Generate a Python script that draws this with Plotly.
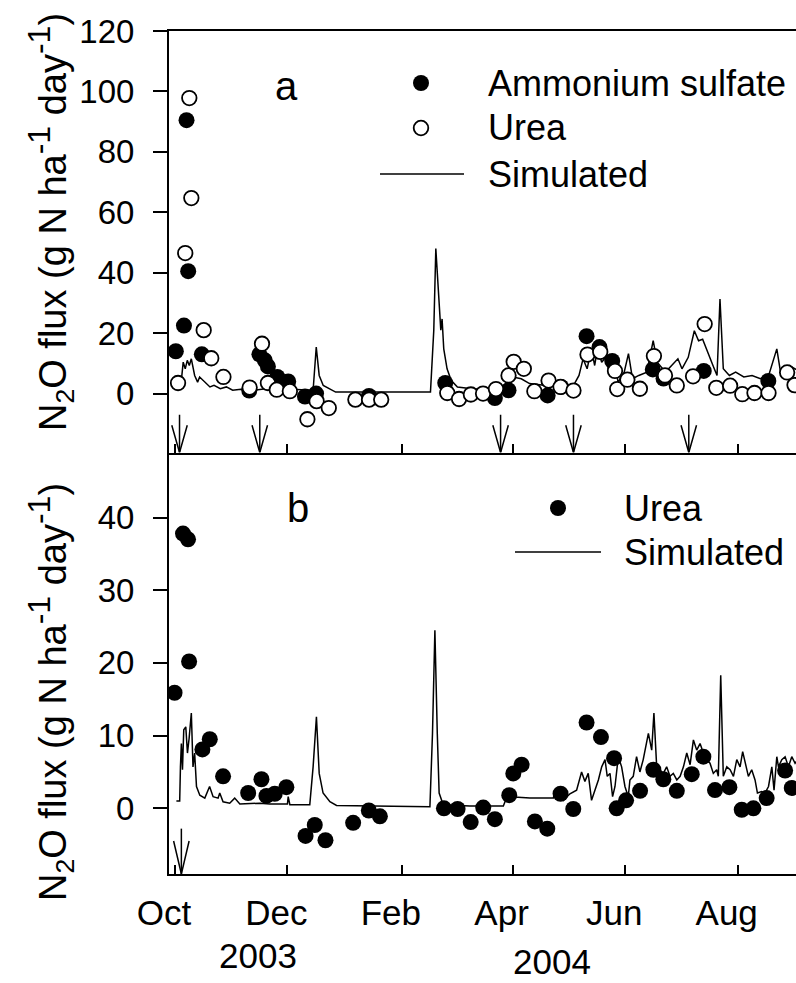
import plotly.graph_objects as go
import pandas as pd

START = pd.Timestamp("2003-10-01")

# ---------------- data (days since 1 Oct 2003, flux in g N ha-1 day-1) ----------------
# Panel a
as_days = [0.5, 4.9, 6.3, 7.2, 14.6, 40.3, 45.8, 48.7, 50.4, 55.5, 61.4, 70.5, 76.5, 105.2,
           146.5, 173.4, 180.8, 202.0, 209.3, 223.1, 230.1, 237.0, 259.0, 264.8, 286.6, 321.6]
as_flux = [14.0, 22.5, 90.5, 40.5, 13.0, 1.0, 13.0, 11.0, 9.0, 5.5, 4.0, -1.0, 0.0, -0.8,
           3.5, -1.5, 1.1, -0.6, 2.2, 19.0, 15.4, 10.8, 8.0, 5.0, 7.5, 4.2]

urea_a_days = [1.7, 5.6, 7.8, 8.9, 15.6, 19.7, 26.3, 40.5, 47.2, 50.4, 55.2, 62.3, 71.8, 76.8,
               83.4, 97.8, 105.2, 111.8, 147.6, 154.0, 160.4, 167.0, 174.0, 180.8, 183.6, 189.1,
               194.8, 202.5, 209.0, 216.0, 223.6, 230.5, 238.5, 239.7, 245.2, 252.0, 259.6, 265.6,
               272.0, 280.8, 287.1, 293.4, 300.9, 307.5, 314.1, 321.7, 331.8, 335.8]
urea_a_flux = [3.5, 46.5, 97.8, 64.7, 21.0, 11.7, 5.5, 2.0, 16.5, 3.5, 1.3, 0.8, -8.5, -2.5,
               -4.8, -2.0, -2.0, -2.0, 0.2, -1.8, -0.3, 0.0, 1.5, 6.0, 10.5, 8.2,
               0.8, 4.3, 2.2, 1.0, 12.9, 13.8, 7.5, 1.5, 4.6, 1.6, 12.4, 6.0,
               2.7, 5.7, 23.0, 1.9, 2.6, -0.2, 0.2, 0.2, 7.0, 2.8]

sim_a_days = [3.4, 4.5, 5.6, 6.7, 7.8, 8.9, 10.7, 12.3, 13.4, 16.8,
              19.0, 21.2, 24.6, 27.9, 31.3, 35.8, 42.5, 49.2, 55.9, 62.6,
              74.9, 76.6, 78.2, 80.4, 87.1, 138.5, 140.3, 141.4, 143.0, 144.1,
              144.8, 145.7, 147.5, 149.7, 153.1, 160.9, 169.8, 176.5, 179.9, 183.2,
              187.7, 192.2, 201.1, 210.0, 215.6, 219.0, 221.2, 223.4, 225.7, 227.5,
              229.0, 231.3, 233.5, 235.7, 238.0, 240.2, 243.5, 245.8, 248.0, 251.4,
              255.8, 259.2, 261.4, 265.9, 269.2, 272.6, 274.8, 278.2, 281.5, 283.8,
              286.0, 288.2, 291.6, 293.8, 295.4, 297.2, 300.5, 303.9, 308.3, 312.8,
              317.3, 321.8, 326.2, 328.5, 332.9, 337.4]
sim_a_flux = [3.8, 10.4, 8.2, 11.0, 9.3, 11.5, 6.0, 3.8, 5.5, 3.3,
              2.2, 2.7, 1.6, 2.2, 1.1, 1.4, 1.1, 1.6, 1.1, 1.4,
              1.1, 15.4, 6.0, 2.7, 0.5, 0.5, 21.0, 48.0, 32.0, 21.0,
              24.7, 14.8, 8.2, 4.4, 2.2, 1.6, 1.4, 1.1, 3.8, 5.5,
              4.9, 3.3, 2.7, 3.0, 2.2, 6.0, 11.5, 8.2, 14.8, 9.3,
              14.8, 10.4, 12.0, 6.0, 10.4, 3.8, 7.1, 13.2, 4.9, 6.0,
              7.1, 17.5, 10.4, 7.1, 9.3, 11.5, 8.2, 12.0, 20.8, 17.5,
              18.0, 14.8, 9.3, 6.0, 31.3, 8.2, 6.0, 7.1, 5.5, 6.0,
              4.9, 6.0, 14.8, 6.0, 9.3, 7.7]

fert_a_days = [2.5, 46.0, 176.5, 216.0, 278.5]

# Panel b
urea_b_days = [-0.2, 4.4, 7.1, 7.7, 14.9, 18.9, 26.1, 39.7, 46.9, 49.6,
               54.1, 60.4, 70.8, 75.8, 81.6, 96.6, 105.1, 111.1, 145.8, 153.2,
               160.3, 167.1, 173.4, 181.2, 183.4, 187.9, 195.1, 201.8, 209.0, 215.9,
               223.1, 230.9, 238.0, 239.4, 244.5, 252.1, 259.3, 264.7, 272.0, 280.1,
               286.4, 292.7, 300.5, 307.2, 313.5, 320.7, 330.7, 334.3]
urea_b_flux = [15.9, 37.8, 37.0, 20.2, 8.1, 9.5, 4.4, 2.1, 4.0, 1.7,
               2.0, 2.9, -3.8, -2.3, -4.4, -2.0, -0.3, -1.1, 0.0, -0.1,
               -1.9, 0.1, -1.5, 1.8, 4.8, 6.0, -1.8, -2.8, 2.0, -0.1,
               11.8, 9.8, 6.9, 0.0, 1.1, 2.4, 5.3, 4.0, 2.4, 4.7,
               7.1, 2.5, 2.9, -0.2, 0.0, 1.4, 5.2, 2.8]

sim_b_days = [0.8, 2.6, 3.0, 3.5, 4.1, 4.8, 5.9, 6.8, 7.7, 8.9,
              9.8, 10.7, 11.7, 13.5, 16.2, 18.8, 20.7, 23.4, 24.3, 26.1,
              29.7, 32.4, 35.2, 46.0, 51.4, 61.0, 61.4, 62.3, 73.1, 74.9,
              76.7, 78.2, 80.3, 84.0, 87.6, 138.2, 139.6, 140.9, 142.2, 143.2,
              145.4, 159.9, 178.0, 179.8, 181.6, 192.4, 205.1, 206.0, 210.5, 214.1,
              217.7, 220.4, 222.2, 224.0, 225.8, 227.6, 229.5, 231.3, 233.1, 234.3,
              235.8, 237.2, 238.5, 240.3, 242.1, 243.9, 245.7, 246.6, 248.4, 250.2,
              252.0, 253.8, 255.3, 256.6, 258.4, 259.6, 261.1, 262.9, 264.7, 266.5,
              268.3, 270.1, 272.0, 273.8, 275.6, 277.4, 279.2, 281.0, 282.8, 284.6,
              286.4, 288.2, 290.0, 291.8, 293.6, 294.5, 295.8, 297.2, 299.1, 300.9,
              302.7, 304.5, 306.3, 307.7, 309.0, 310.8, 312.6, 314.4, 315.7, 318.0,
              319.8, 321.7, 323.5, 324.7, 326.2, 327.1, 328.9, 330.7, 332.5, 334.3,
              336.1, 338.8]
sim_b_flux = [1.0, 1.0, 5.7, 8.9, 5.3, 10.8, 11.2, 7.6, 9.6, 13.1,
              5.7, 7.6, 3.0, 1.8, 1.4, 3.0, 1.6, 1.4, 2.1, 0.9,
              0.7, 1.4, 0.6, 0.7, 0.6, 0.6, 1.6, 0.5, 0.5, 5.7,
              12.6, 4.8, 2.1, 0.9, 0.4, 0.2, 10.3, 24.5, 10.3, 2.1,
              0.5, 0.3, 0.3, 1.5, 1.6, 1.4, 1.4, 2.5, 1.1, 2.0,
              2.5, 5.0, 3.7, 4.8, 1.1, 2.5, 3.9, 5.7, 6.7, 4.4,
              4.8, 1.6, 3.0, 7.1, 5.7, 3.0, 1.6, 3.9, 4.4, 7.1,
              5.0, 6.7, 8.5, 10.3, 8.0, 13.1, 5.7, 5.3, 4.8, 5.7,
              4.4, 4.8, 3.9, 4.4, 5.7, 7.6, 6.0, 9.4, 8.0, 8.9,
              7.6, 6.7, 6.2, 4.8, 5.3, 4.4, 18.3, 4.4, 5.7, 5.3,
              4.4, 6.7, 5.7, 7.8, 6.2, 4.4, 5.3, 3.9, 2.1, 2.3,
              2.1, 3.0, 5.7, 2.5, 7.1, 5.7, 6.7, 7.1, 5.7, 7.1,
              6.2, 7.1]

fert_b_days = [3.5]

month_ticks = ["2003-10-01", "2003-12-01", "2004-02-01", "2004-04-01", "2004-06-01", "2004-08-01"]
month_labels = ["Oct", "Dec", "Feb", "Apr", "Jun", "Aug"]
year_labels = ["2003", "2004"]
ya_ticks = [0, 20, 40, 60, 80, 100, 120]
yb_ticks = [0, 10, 20, 30, 40]
ya_range = [-19.5, 120]
yb_range = [-9.04, 48.95]
x_range_days = [-3.2, 336.6]

# ---------------- helpers ----------------
def to_dates(days):
    return [START + pd.Timedelta(days=float(d)) for d in days]

FONT = "Arial, 'Liberation Sans', sans-serif"
W, H = 796, 983
PL, PR, PT, PB = 169, 796, 31, 874

def px(x):
    return (x - PL) / (PR - PL)

def py(y):
    return (PB - y) / (PB - PT)

def arrow_path(days, top, head_top, bottom, half_w):
    xs, ys = [], []
    for d in days:
        xs += [d, d, None, d - half_w, d, d + half_w, None]
        ys += [top, bottom, None, head_top, bottom, head_top, None]
    xd = [START + pd.Timedelta(days=v) if v is not None else None for v in xs]
    return xd, ys

fig = go.Figure()
line_style = dict(color="black", width=1.5)

# Panel a traces
fig.add_trace(go.Scatter(x=to_dates(sim_a_days), y=sim_a_flux, mode="lines", line=line_style,
                         xaxis="x2", yaxis="y2", showlegend=False))
fig.add_trace(go.Scatter(x=to_dates(as_days), y=as_flux, mode="markers",
                         marker=dict(symbol="circle", size=16, color="black", line=dict(width=0)),
                         xaxis="x2", yaxis="y2", showlegend=False))
fig.add_trace(go.Scatter(x=to_dates(urea_a_days), y=urea_a_flux, mode="markers",
                         marker=dict(symbol="circle", size=14.5, color="white",
                                     line=dict(color="black", width=1.8)),
                         xaxis="x2", yaxis="y2", showlegend=False))
ax, ay = arrow_path(fert_a_days, -7.0, -10.5, ya_range[0], 4.2)
fig.add_trace(go.Scatter(x=ax, y=ay, mode="lines", line=dict(color="black", width=1.5),
                         xaxis="x2", yaxis="y2", showlegend=False, connectgaps=False))

# Panel b traces
fig.add_trace(go.Scatter(x=to_dates(sim_b_days), y=sim_b_flux, mode="lines", line=line_style,
                         xaxis="x", yaxis="y", showlegend=False))
fig.add_trace(go.Scatter(x=to_dates(urea_b_days), y=urea_b_flux, mode="markers",
                         marker=dict(symbol="circle", size=16, color="black", line=dict(width=0)),
                         xaxis="x", yaxis="y", showlegend=False))
bx, by = arrow_path(fert_b_days, -2.8, -4.5, yb_range[0], 4.2)
fig.add_trace(go.Scatter(x=bx, y=by, mode="lines", line=dict(color="black", width=1.5),
                         xaxis="x", yaxis="y", showlegend=False, connectgaps=False))

xr = [START + pd.Timedelta(days=v) for v in x_range_days]
common_x = dict(type="date", range=xr, tickvals=month_ticks, ticks="inside", ticklen=9,
                tickwidth=2, tickcolor="black", showline=True, linewidth=2, linecolor="black",
                showgrid=False, zeroline=False)
common_y = dict(ticks="outside", ticklen=14, tickwidth=2, tickcolor="black", showline=True,
                linewidth=2, linecolor="black", showgrid=False, zeroline=False,
                tickfont=dict(family=FONT, size=33, color="black"), ticklabelstandoff=12)

fig.update_layout(
    width=W, height=H, autosize=False,
    margin=dict(l=PL, r=W - PR, t=PT, b=H - PB, pad=0),
    paper_bgcolor="white", plot_bgcolor="white",
    font=dict(family=FONT, color="black"),
    showlegend=False,
    xaxis=dict(domain=[0, 1], anchor="y", ticktext=month_labels,
               tickfont=dict(family=FONT, size=35, color="black"),
               ticklabelstandoff=7, ticklabelshift=-11, **common_x),
    xaxis2=dict(domain=[0, 1], anchor="y2", showticklabels=False, mirror=True, **common_x),
    yaxis=dict(domain=[0, 0.5], anchor="x", range=yb_range, tickvals=yb_ticks, **common_y),
    yaxis2=dict(domain=[0.5, 1], anchor="x2", range=ya_range, tickvals=ya_ticks, **common_y),
)

ann = []
sup = "<sup><span style='font-size:32px'>-1</span></sup>"
title_text = "N<sub>2</sub>O flux (g N ha" + sup + " day" + sup + ")"
title_font = dict(family=FONT, size=38, color="black")
ann.append(dict(x=px(50), y=py(222), xref="paper", yref="paper", text=title_text, textangle=-90,
                showarrow=False, xanchor="center", yanchor="middle", font=title_font))
ann.append(dict(x=px(50), y=py(692), xref="paper", yref="paper", text=title_text, textangle=-90,
                showarrow=False, xanchor="center", yanchor="middle", font=title_font))
ann.append(dict(x=px(257.7), y=py(955), xref="paper", yref="paper", text=year_labels[0],
                showarrow=False, xanchor="center", yanchor="middle",
                font=dict(family=FONT, size=35, color="black")))
ann.append(dict(x=px(552), y=py(961), xref="paper", yref="paper", text=year_labels[1],
                showarrow=False, xanchor="center", yanchor="middle",
                font=dict(family=FONT, size=35, color="black")))
ann.append(dict(x=px(286.5), y=py(86.5), xref="paper", yref="paper", text="a",
                showarrow=False, xanchor="center", yanchor="middle",
                font=dict(family=FONT, size=40, color="black")))
ann.append(dict(x=px(298), y=py(508), xref="paper", yref="paper", text="b",
                showarrow=False, xanchor="center", yanchor="middle",
                font=dict(family=FONT, size=40, color="black")))
legend_items = [("Ammonium sulfate", 486, 83), ("Urea", 486, 128), ("Simulated", 486, 174),
                ("Urea", 622, 508), ("Simulated", 622, 552)]
for txt, lx, ly in legend_items:
    ann.append(dict(x=px(lx), y=py(ly), xref="paper", yref="paper", text=txt,
                    showarrow=False, xanchor="left", yanchor="middle",
                    font=dict(family=FONT, size=36, color="black")))
fig.update_layout(annotations=ann)

shapes = []
def circle(cx, cy, r, filled):
    return dict(type="circle", xref="paper", yref="paper",
                x0=px(cx - r), x1=px(cx + r), y0=py(cy + r), y1=py(cy - r),
                fillcolor="black" if filled else "white",
                line=dict(color="black", width=0 if filled else 1.8))
shapes.append(circle(421, 83, 8, True))
shapes.append(circle(421, 128, 7.3, False))
shapes.append(dict(type="line", xref="paper", yref="paper", x0=px(380), x1=px(464),
                   y0=py(174), y1=py(174), line=dict(color="black", width=1.5)))
shapes.append(circle(558, 508, 8, True))
shapes.append(dict(type="line", xref="paper", yref="paper", x0=px(515), x1=px(601),
                   y0=py(552), y1=py(552), line=dict(color="black", width=1.5)))
fig.update_layout(shapes=shapes)

fig.write_html("out.html")
